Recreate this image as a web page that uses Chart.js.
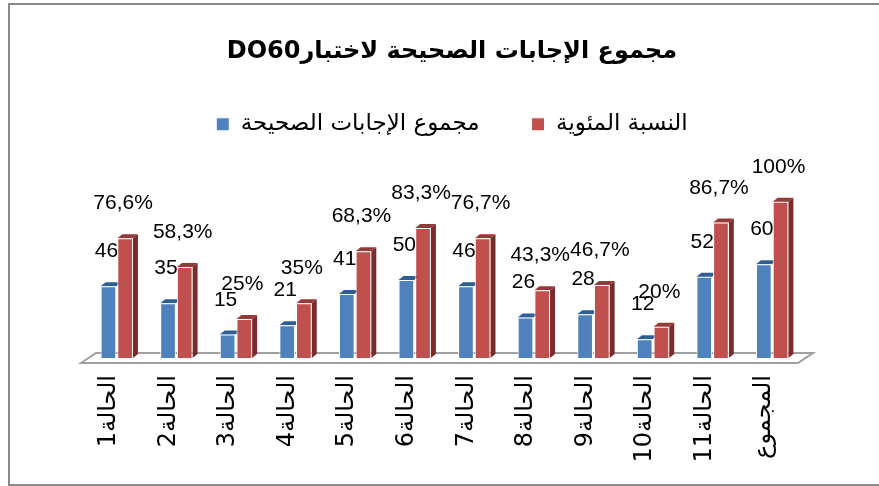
<!DOCTYPE html>
<html lang="ar">
<head>
  <meta charset="UTF-8" />
  <title>مجموع الإجابات الصحيحة</title>
  <script src="https://cdn.jsdelivr.net/npm/chart.js"></script>
  <style>
    html, body {
      margin: 0;
      padding: 0;
      background: #fff;
      overflow: hidden;
      width: 879px;
      height: 486px;
    }
    #chart {
      position: absolute;
      left: 0;
      top: 0;
    }
    .frame {
      position: absolute;
      left: 8px;
      top: 3px;
      width: 900px;
      height: 483px;
      box-sizing: border-box;
      border: 2px solid #8a8a8a;
      pointer-events: none;
    }
  </style>
</head>
<body>
  <div class="frame"></div>
  <canvas id="chart" width="904" height="486" dir="rtl"></canvas>

  <script>
    // data
    const categories = ['الحالة1', 'الحالة2', 'الحالة3', 'الحالة4', 'الحالة5', 'الحالة6',
                        'الحالة7', 'الحالة8', 'الحالة9', 'الحالة10', 'الحالة11', 'المجموع'];
    const correctCounts = [46, 35, 15, 21, 41, 50, 46, 26, 28, 12, 52, 60];
    const percentages = [76.6, 58.3, 25, 35, 68.3, 83.3, 76.7, 43.3, 46.7, 20, 86.7, 100];
    const yTicks = { min: 0, max: 100 };

    const blue = '#4f81bd', red = '#c0504d';
    const depth = { dx: 5, dy: 4 };

    // floor + top/side faces, so the bars look like the excel 3d ones
    const fake3d = {
      id: 'fake3d',
      beforeDatasetsDraw(chart) {
        const ctx = chart.ctx;
        const a = chart.chartArea;
        const b = a.bottom;
        ctx.save();
        ctx.strokeStyle = '#a0a0a0';
        ctx.lineWidth = 2;
        ctx.beginPath();
        ctx.moveTo(a.left - 6, b + 5);
        ctx.lineTo(a.left + 9, b - 5);
        ctx.lineTo(a.right + 11, b - 5);
        ctx.lineTo(a.right - 4, b + 5);
        ctx.closePath();
        ctx.stroke();

        const faces = [
          { top: '#2d5d93', side: '#2a4f7c' },
          { top: '#953a38', side: '#7b2c2a' }
        ];
        chart.data.datasets.forEach((ds, i) => {
          const meta = chart.getDatasetMeta(i);
          meta.data.forEach(bar => {
            const l = bar.x - bar.width / 2, r = bar.x + bar.width / 2;
            ctx.fillStyle = faces[i].top;
            ctx.beginPath();
            ctx.moveTo(l, bar.y);
            ctx.lineTo(l + depth.dx, bar.y - depth.dy);
            ctx.lineTo(r + depth.dx, bar.y - depth.dy);
            ctx.lineTo(r, bar.y);
            ctx.closePath();
            ctx.fill();
            if (i === 1) {
              ctx.fillStyle = faces[i].side;
              ctx.beginPath();
              ctx.moveTo(r, bar.y);
              ctx.lineTo(r + depth.dx, bar.y - depth.dy);
              ctx.lineTo(r + depth.dx, bar.base - depth.dy);
              ctx.lineTo(r, bar.base);
              ctx.closePath();
              ctx.fill();
            }
          });
        });
        ctx.restore();
      }
    };

    const valueLabels = {
      id: 'valueLabels',
      afterDatasetsDraw(chart) {
        const ctx = chart.ctx;
        ctx.save();
        ctx.direction = 'ltr';
        ctx.font = '21px "Liberation Sans", sans-serif';
        ctx.fillStyle = '#000';
        ctx.textAlign = 'center';
        ctx.textBaseline = 'alphabetic';
        chart.data.datasets.forEach((ds, i) => {
          chart.getDatasetMeta(i).data.forEach((bar, j) => {
            let v = ds.data[j];
            let txt = i === 1 ? String(v).replace('.', ',') + '%' : String(v);
            ctx.fillText(txt, bar.x - 2, bar.y - 29);
          });
        });
        ctx.restore();
      }
    };

    const hiddenAxis = (size, prop) => ({
      display: true,
      grid: { display: false },
      border: { display: false },
      ticks: { display: false },
      afterFit(s) { s[prop] = size; }
    });

    new Chart(document.getElementById('chart'), {
      type: 'bar',
      data: {
        labels: categories,
        datasets: [
          {
            label: 'مجموع الإجابات الصحيحة',
            data: correctCounts,
            backgroundColor: blue,
            borderColor: '#ffffff',
            borderWidth: 1
          },
          {
            label: 'النسبة المئوية',
            data: percentages,
            backgroundColor: red,
            borderColor: '#ffffff',
            borderWidth: 1
          }
        ]
      },
      options: {
        responsive: false,
        animation: false,
        categoryPercentage: 0.56,
        barPercentage: 0.94,
        layout: { padding: 0 },
        scales: {
          x: {
            grid: { display: false },
            border: { display: false },
            ticks: {
              color: '#000',
              font: { family: 'DejaVu Sans', size: 24 },
              minRotation: 90,
              maxRotation: 90,
              padding: 9,
              labelOffset: -8
            },
            afterFit(s) { s.height = 128; }
          },
          xTop: Object.assign({ type: 'category', position: 'top' }, hiddenAxis(56, 'height')),
          y: Object.assign({ min: yTicks.min, max: yTicks.max }, hiddenAxis(87, 'width')),
          yRight: Object.assign({ type: 'linear', position: 'right' }, hiddenAxis(102, 'width'))
        },
        plugins: {
          title: {
            display: true,
            text: 'مجموع الإجابات الصحيحة لاختبارDO60',
            color: '#000',
            font: { family: 'DejaVu Sans', size: 24, weight: 'bold' },
            padding: { top: 37, bottom: -5 }
          },
          legend: {
            labels: {
              color: '#000',
              font: { family: 'DejaVu Sans', size: 23 },
              boxWidth: 13,
              boxHeight: 13,
              padding: 52
            }
          },
          tooltip: { enabled: false }
        }
      },
      plugins: [fake3d, valueLabels]
    });
  </script>
</body>
</html>
